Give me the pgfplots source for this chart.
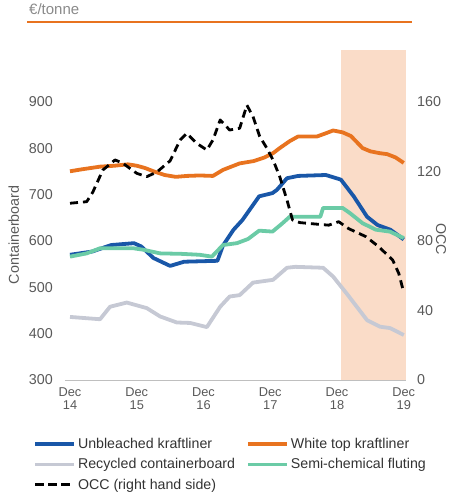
\documentclass[border=0pt]{standalone}
\usepackage{pgfplots}
\pgfplotsset{compat=1.18}
\usepackage{fontspec}
\setmainfont{Liberation Sans}
\definecolor{cblue}{HTML}{1957A8}
\definecolor{corange}{HTML}{E8731F}
\definecolor{cgrey}{HTML}{C6C9D4}
\definecolor{cteal}{HTML}{6BCBA6}
\definecolor{cshade}{HTML}{FADCC8}
\definecolor{tickgray}{HTML}{595959}
\definecolor{hdrgray}{HTML}{8A8A8A}
\definecolor{leggray}{HTML}{333333}
\definecolor{axgray}{HTML}{BFBFBF}
\begin{document}
\begin{tikzpicture}
\useasboundingbox (0,0) rectangle (452pt,496pt);
\node[anchor=west, text=hdrgray, font=\fontsize{15}{18}\selectfont, inner sep=0pt] at (29pt,487pt) {€/tonne};
\draw[corange, line width=2pt] (27pt,474pt) -- (412pt,474pt);
\begin{axis}[
  at={(65pt,116pt)}, anchor=south west,
  scale only axis, width=341pt, height=330pt,
  xmin=-0.9, xmax=60.4, ymin=300, ymax=1011.5,
  axis x line*=bottom, axis y line*=left,
  y axis line style={draw=none},
  x axis line style={-, draw=axgray, line width=1pt},
  major tick length=0pt, tick style={draw=none},
  xtick={0,12,24,36,48,60},
  xticklabels={{Dec\\14},{Dec\\15},{Dec\\16},{Dec\\17},{Dec\\18},{Dec\\19}},
  x tick label style={align=center, font=\fontsize{12.8}{13.5}\selectfont, text=tickgray, anchor=north, inner sep=0pt, yshift=-7pt},
  ytick={300,400,...,900},
  y tick label style={font=\fontsize{14.3}{16}\selectfont, text=tickgray, anchor=east, inner sep=0pt, xshift=-12pt},
  /pgf/number format/assume math mode=true,
  ylabel={Containerboard},
  ylabel style={at={(axis description cs:-0.15,0.44)}, anchor=center, font=\fontsize{14.3}{16}\selectfont, text=tickgray},
  legend style={at={(axis description cs:-0.0938,-0.170)}, anchor=north west, draw=none, fill=none,
    font=\fontsize{14.2}{16}\selectfont, text=leggray, inner sep=0pt, row sep=4.5pt,
    /tikz/every even column/.append style={column sep=9pt}},
  legend columns=2,
  legend cell align=left,
  legend image code/.code={\draw[#1] (0pt,0pt) -- (39pt,0pt);},
  line join=round,
]
\fill[cshade] (axis cs:48.7,300) rectangle (axis cs:60.4,1011.5);
% Unbleached kraftliner
\addplot[cblue, line width=3.8pt] coordinates {
(0,570) (4,577) (7.4,591) (11.5,595) (12.8,588) (15,563) (18,546) (20.5,555) (26.5,557)
(27.5,590) (29.4,624) (31,645) (34,696) (36.4,703) (37.2,710) (39,735) (41,740) (46,742)
(48.7,732) (51,696) (53.4,652) (55.3,634) (57.6,624) (60,603)};
\addlegendentry{Unbleached kraftliner}
% White top kraftliner
\addplot[corange, line width=3.8pt] coordinates {
(0,750) (2,754) (5.4,760) (8,762) (10.4,765) (12,762) (13.5,757) (15,750) (17,742) (19,738)
(21,740) (23.3,741) (25.7,740) (27.5,753) (30.5,767) (33,772) (35,780) (36.5,789) (37.7,800)
(39.5,815) (41,825) (44.4,825) (46,832) (47.3,838) (49,834) (50.5,826) (52.6,800) (54,793)
(55.7,789) (57,787) (58.5,780) (60,768)};
\addlegendentry{White top kraftliner}
% Recycled containerboard
\addplot[cgrey, line width=3.8pt] coordinates {
(0,436) (5.4,431) (7.2,458) (10.2,467) (13.8,455) (16.2,437) (19.2,424) (21.6,423) (24.6,414)
(27,458) (28.7,480) (30.5,483) (32.9,510) (36.5,516) (39,542) (40.5,544) (45.5,542) (47.3,523)
(49.7,487) (53.4,429) (55.7,415) (57.5,412) (60,397)};
\addlegendentry{Recycled containerboard}
% Semi-chemical fluting
\addplot[cteal, line width=3.8pt] coordinates {
(0,566) (3,573) (5.4,584) (11.4,584) (13.1,581) (16.2,573) (20,572) (23.3,570) (25.5,566)
(27.5,591) (30,595) (32,604) (34,622) (36.4,620) (38.2,638) (39.5,652) (45,652) (45.5,671)
(49,671) (50.3,660) (52.6,638) (55,624) (57.5,620) (60,606)};
\addlegendentry{Semi-chemical fluting}
\addlegendimage{legend image code/.code={\draw[black, line width=2.8pt, dash pattern=on 9pt off 4pt] (0pt,0pt) -- (35pt,0pt);}}
\addlegendentry{OCC (right hand side)}
\end{axis}
\begin{axis}[
  at={(65pt,116pt)}, anchor=south west,
  scale only axis, width=341pt, height=330pt,
  xmin=-0.9, xmax=60.4, ymin=0, ymax=189.7,
  axis x line=none, axis y line*=right,
  y axis line style={draw=none},
  major tick length=0pt, tick style={draw=none},
  ytick={0,40,...,160},
  y tick label style={font=\fontsize{14.3}{16}\selectfont, text=tickgray, anchor=west, inner sep=0pt, xshift=11pt},
  /pgf/number format/assume math mode=true,
  ylabel={OCC},
  ylabel style={at={(axis description cs:1.1026,0.427)}, anchor=center, rotate=180, font=\fontsize{14.3}{16}\selectfont, text=tickgray},
  line join=round,
]
\addplot[black, line width=2.8pt, dash pattern=on 8pt off 5pt] coordinates {
(0,101.6) (3,102.5) (4.1,108) (5.9,120.7) (8.1,126.5) (9.5,124.6) (12,118.8) (13.8,116.9)
(15.6,119.5) (18,126) (19.8,138) (21,141.8) (22.8,136) (24.6,132.2) (25.7,138) (27,149.5)
(28.7,143.7) (30.5,144.7) (31.8,158) (32.9,151.4) (34.1,140) (35.4,133.2) (36.5,126.5)
(37.7,116.9) (39,103.5) (40,92) (41.3,90.5) (42.9,90) (46.5,89) (48.3,91) (50.1,87)
(53.2,82.4) (55.5,76.6) (58,69) (59.1,61.3) (59.8,52.7)};
\end{axis}
\end{tikzpicture}
\end{document}
